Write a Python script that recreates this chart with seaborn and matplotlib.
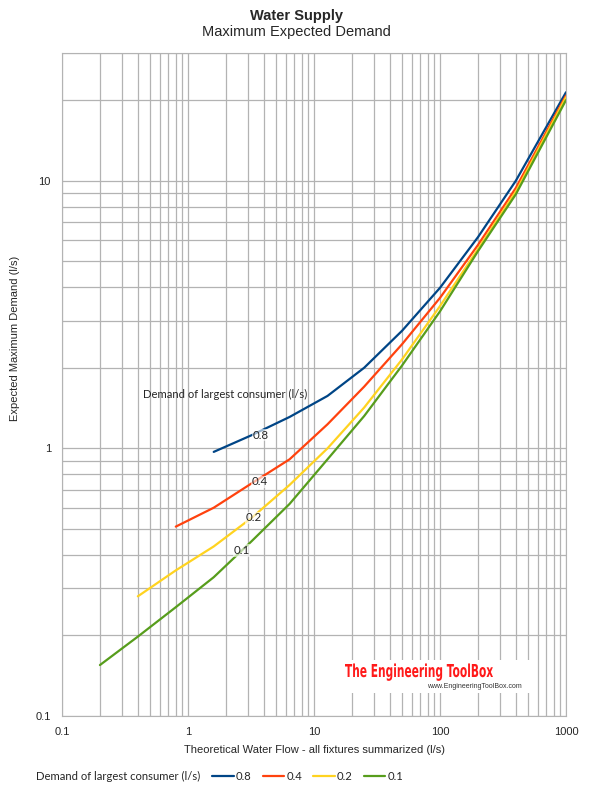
import numpy as np
import pandas as pd
import matplotlib.pyplot as plt
import matplotlib.ticker as mticker
import matplotlib.transforms as mtransforms
from matplotlib.lines import Line2D
from matplotlib.patches import PathPatch, Rectangle
from matplotlib.textpath import TextPath
from matplotlib.font_manager import FontProperties
import seaborn as sns

# theoretical flow (l/s) -> expected max demand (l/s)
flow_08 = [1.6, 3.2, 6.4, 12.8, 25, 50, 100, 200, 400, 1000]
demand_08 = [0.97, 1.12, 1.31, 1.57, 2.0, 2.75, 3.98, 6.15, 10.0, 21.4]

flow_04 = [0.8, 1.6, 3.2, 6.4, 12.8, 25, 50, 100, 200, 400, 1000]
demand_04 = [0.51, 0.60, 0.74, 0.91, 1.23, 1.70, 2.45, 3.65, 5.75, 9.4, 20.8]

flow_02 = [0.4, 0.8, 1.6, 3.2, 6.4, 12.8, 25, 50, 100, 200, 400, 1000]
demand_02 = [0.28, 0.35, 0.43, 0.55, 0.73, 1.0, 1.42, 2.15, 3.4, 5.55, 9.1, 20.5]

flow_01 = [0.2, 0.4, 0.8, 1.6, 3.2, 6.4, 12.8, 25, 50, 100, 200, 400, 1000]
demand_01 = [0.155, 0.198, 0.255, 0.33, 0.45, 0.62, 0.91, 1.32, 2.04, 3.25, 5.45, 8.9, 20.0]

series = ["0.8", "0.4", "0.2", "0.1"]
colors = ["#004586", "#ff420e", "#ffd320", "#579d1c"]

frames = []
for name, fx, fy in zip(series, [flow_08, flow_04, flow_02, flow_01],
                        [demand_08, demand_04, demand_02, demand_01]):
    frames.append(pd.DataFrame({"flow": fx, "demand": fy, "largest": name}))
df = pd.concat(frames, ignore_index=True)

sns.set_style("white")
plt.rcParams["font.family"] = ["Liberation Sans", "DejaVu Sans"]

W, H = 590, 792
fig = plt.figure(figsize=(W / 100, H / 100), dpi=100)
ax = fig.add_axes([62 / W, 76 / H, 504 / W, 663 / H])

sns.lineplot(data=df, x="flow", y="demand", hue="largest", palette=colors,
             hue_order=series, sort=False, linewidth=1.6, legend=False, ax=ax)

ax.set_xscale("log")
ax.set_yscale("log")
ax.set_xlim(0.1, 1000)
ax.set_ylim(0.1, 30)

grid_col = "#b3b3b3"
ax.xaxis.set_minor_locator(mticker.LogLocator(subs=np.arange(2, 10)))
ax.yaxis.set_minor_locator(mticker.LogLocator(subs=np.arange(2, 10)))
ax.grid(True, which="both", color=grid_col, linewidth=0.9)
ax.set_axisbelow(True)
for s in ax.spines.values():
    s.set_color(grid_col)

ax.set_xticks([0.1, 1, 10, 100, 1000], ["0.1", "1", "10", "100", "1000"])
ax.set_yticks([0.1, 1, 10], ["0.1", "1", "10"])
ax.yaxis.set_minor_formatter(mticker.NullFormatter())
ax.xaxis.set_minor_formatter(mticker.NullFormatter())
ax.tick_params(which="both", length=0)
ax.tick_params(axis="y", pad=8, labelsize=8)
ax.tick_params(axis="x", pad=8, labelsize=8)

ax.set_xlabel("Theoretical Water Flow - all fixtures summarized (l/s)", fontsize=8, labelpad=6)
ax.set_ylabel("Expected Maximum Demand (l/s)", fontsize=8)
ax.yaxis.set_label_coords(-0.083, 0.57)

fig.text(0.502, 1 - 16 / H, "Water Supply", ha="center", va="center",
         fontsize=10.5, fontweight="bold")
fig.text(0.502, 1 - 32 / H, "Maximum Expected Demand", ha="center", va="center",
         fontsize=10.5)

# labels on the curves
lab_font = ["Lato", "DejaVu Sans"]
box = dict(facecolor="white", edgecolor="none", alpha=0.6, pad=0.5)
ax.text(0.44, 1.59, "Demand of largest consumer (l/s)", fontsize=8.1, family=lab_font,
        ha="left", va="center")
for name, xv, yv in zip(series, [3.8, 3.7, 3.3, 2.65], [1.12, 0.75, 0.55, 0.415]):
    ax.text(xv, yv, name, fontsize=8.3, family=lab_font, ha="center", va="center", bbox=box)

# watermark (narrow bold text drawn as a squeezed path)
fig.add_artist(Rectangle((340 / W, 1 - 693 / H), 195 / W, 33 / H, transform=fig.transFigure,
                         facecolor="white", edgecolor="none", zorder=2))
tp = TextPath((0, 0), "The Engineering ToolBox", size=1,
              prop=FontProperties(family="DejaVu Sans", weight="bold"))
ext = tp.get_extents()
sx = 148 / ext.width
sy = 13 / 0.729
tr = (mtransforms.Affine2D().translate(-ext.x0, 0).scale(sx / W, sy / H)
      .translate(345 / W, 1 - 677 / H) + fig.transFigure)
fig.add_artist(PathPatch(tp, transform=tr, facecolor="#ff1a1a", edgecolor="none", zorder=3))
fig.text(427 / W, 1 - 687 / H, "www.EngineeringToolBox.com", color="#333333",
         fontsize=5, ha="left", va="center", zorder=4)

# bottom legend
fig.text(36 / W, 1 - 776 / H, "Demand of largest consumer (l/s)", fontsize=8.1,
         family=lab_font, ha="left", va="center")
handles = [Line2D([], [], color=c, linewidth=1.6) for c in colors]
fig.legend(handles, series, loc="center left", bbox_to_anchor=(202 / W, 1 - 776 / H),
           ncol=4, frameon=False, handlelength=1.9, handletextpad=0.2, columnspacing=1.0,
           prop={"family": lab_font, "size": 8.1})

fig.savefig("out.png", dpi=100)
